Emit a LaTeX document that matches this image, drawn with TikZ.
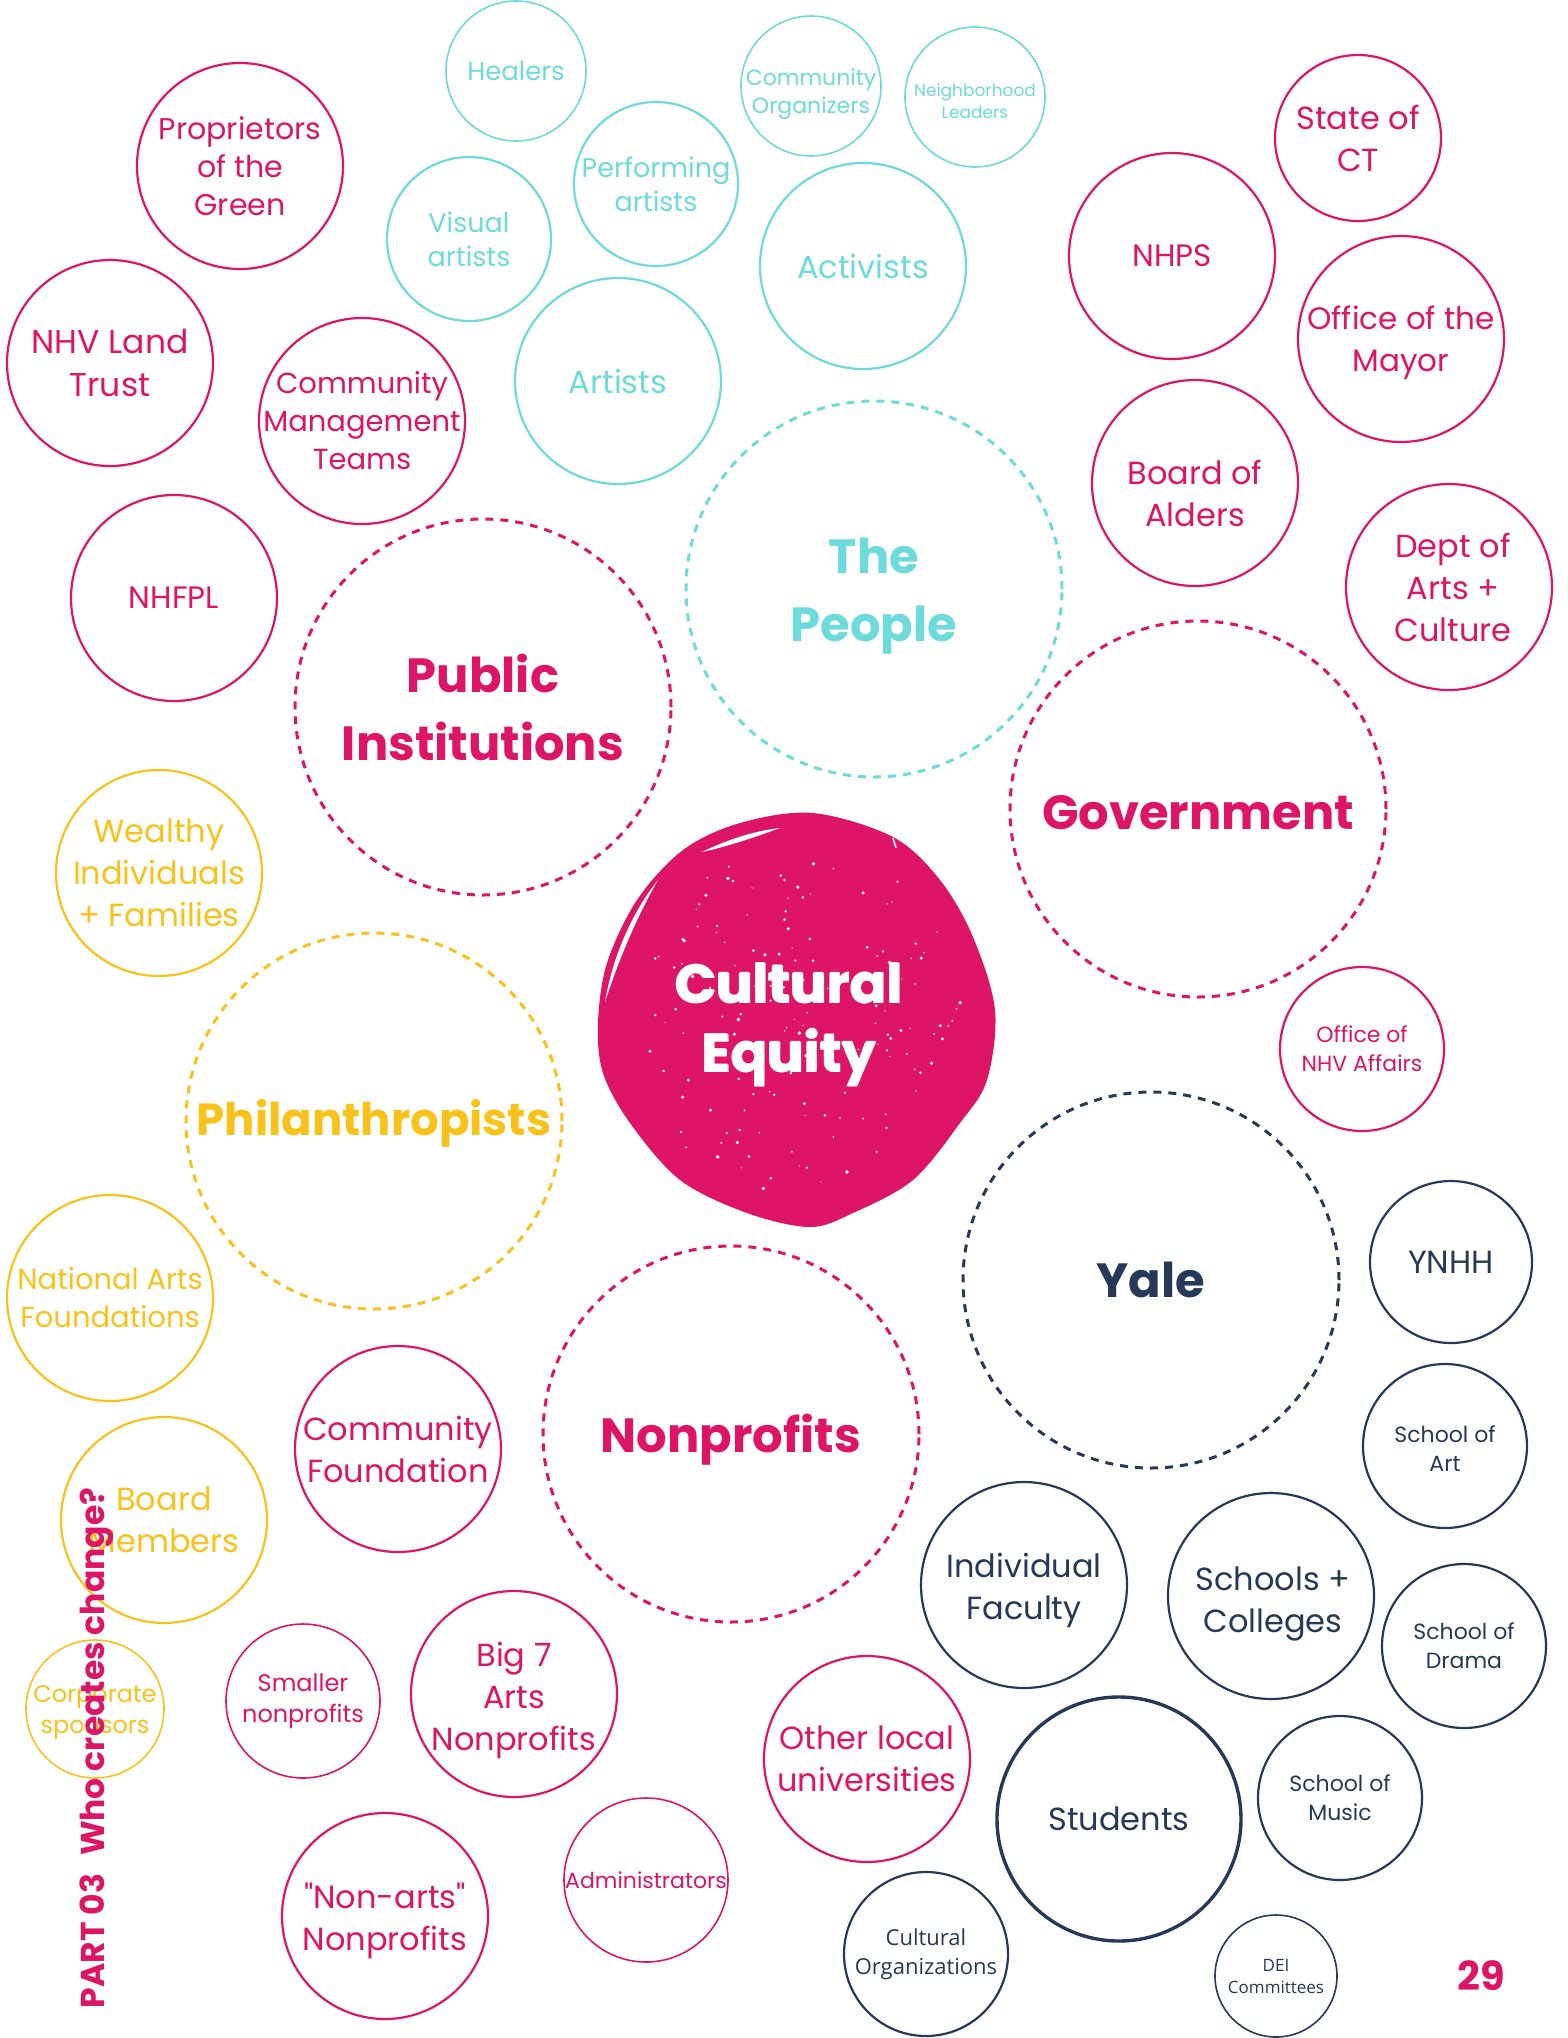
\documentclass[tikz,border=0pt]{standalone}
\usepackage{fontspec}
\setmainfont{Poppins}[Ligatures=TeXOff]
\newfontfamily\opensans{Open Sans}

\definecolor{cepink}{HTML}{DE1567}
\definecolor{cecyan}{HTML}{6DDADB}
\definecolor{ceyellow}{HTML}{F8C21B}
\definecolor{cenavy}{HTML}{263959}

\tikzset{
  ring/.style={circle, draw, inner sep=0pt, line width=2.2pt},
  thinring/.style={ring, line width=1.6pt},
  hub/.style={circle, draw, inner sep=0pt, line width=3pt, dash pattern=on 8pt off 7pt},
  lbl/.style={align=center, inner sep=0pt},
  fs/.style 2 args={font=\fontsize{#1}{#2}\selectfont},
  big/.style={font=\fontsize{48}{68}\selectfont\bfseries},
  heavy/.style={lbl, white, font=\fontsize{54}{69}\selectfont\bfseries},
}

% bubble: name, centre, diameter, ring style, label style, text
\newcommand\bub[6]{%
  \node[#4, minimum size=#3pt] (#1) at (#2) {};
  \node[lbl, #5] (#1-t) at (#1) {#6};}

\begin{document}
\begin{tikzpicture}[x=1pt, y=-1pt]
\fill[white] (0,0) rectangle (1567,2038);
\useasboundingbox (0,0) rectangle (1567,2038);

% ---- The People (cyan) ----
\bub{healers}{516,71}{140}{thinring, cecyan}{cecyan, fs={26}{32}}{Healers}
\bub{commorg}{811,86}{140}{thinring, cecyan}{cecyan, fs={22}{28}, yshift=-8pt}{Community\\Organizers}
\bub{neigh}{975,97}{140}{thinring, cecyan}{cecyan, fs={17}{22}, yshift=-4pt}{Neighborhood\\Leaders}
\bub{perf}{656,184}{164}{ring, cecyan}{cecyan, fs={27}{34}}{Performing\\artists}
\bub{visual}{469,239}{164}{ring, cecyan}{cecyan, fs={27}{34}}{Visual\\artists}
\bub{activists}{863,266}{206}{ring, cecyan}{cecyan, fs={32}{40}}{Activists}
\bub{artists}{618,381}{206}{ring, cecyan}{cecyan, fs={32}{40}}{Artists}
\bub{people}{874,589}{376}{hub, cecyan}{cecyan, big, yshift=-7pt}{The\\People}

% ---- Public Institutions (pink) ----
\bub{prop}{240,166}{206}{ring, cepink}{cepink, fs={30}{38}}{Proprietors\\of the\\Green}
\bub{landtrust}{110,363}{206}{ring, cepink}{cepink, fs={33}{43}}{NHV Land\\Trust}
\bub{cmt}{362,421}{206}{ring, cepink}{cepink, fs={29}{38}}{Community\\Management\\Teams}
\bub{nhfpl}{174,598}{206}{ring, cepink}{cepink, fs={31}{38}}{NHFPL}
\bub{public}{483,707}{376}{hub, cepink}{cepink, big}{Public\\Institutions}

% ---- Government (pink) ----
\bub{nhps}{1172,256}{206}{ring, cepink}{cepink, fs={31}{38}}{NHPS}
\bub{statect}{1358,138}{166}{ring, cepink}{cepink, fs={32}{42}}{State of\\CT}
\bub{mayor}{1401,339}{206}{ring, cepink}{cepink, fs={31}{42}, yshift=-4pt}{Office of the\\Mayor}
\bub{alders}{1195,483}{206}{ring, cepink}{cepink, fs={32}{42}, yshift=-10pt}{Board of\\Alders}
\bub{dept}{1449,587}{206}{ring, cepink}{cepink, fs={32}{42}, xshift=4pt}{Dept of\\Arts +\\Culture}
\bub{govt}{1198,809}{376}{hub, cepink}{cepink, big, yshift=-4pt}{Government}
\bub{nhvaff}{1362,1049}{164}{ring, cepink}{cepink, fs={22}{29}}{Office of\\NHV Affairs}

% ---- Nonprofits (pink) ----
\bub{nonprofits}{731,1434}{376}{hub, cepink}{cepink, big, yshift=-6pt}{Nonprofits}
\bub{commfound}{398,1449}{206}{ring, cepink}{cepink, fs={32}{42}}{Community\\Foundation}
\bub{smaller}{303,1701}{154}{thinring, cepink}{cepink, fs={24}{31}}{Smaller\\nonprofits}
\bub{bigseven}{514,1694}{206}{ring, cepink}{cepink, fs={32}{42}, yshift=-6pt}{Big 7\\Arts\\Nonprofits}
\bub{nonarts}{385,1916}{206}{ring, cepink}{cepink, fs={32}{42}, yshift=-5pt}{"Non-arts"\\Nonprofits}
\bub{admin}{646,1880}{164}{thinring, cepink}{cepink, fs={22}{29}}{Administrators}
\bub{otherunis}{867,1759}{206}{ring, cepink}{cepink, fs={32}{42}}{Other local\\universities}

% ---- Philanthropists (yellow) ----
\bub{wealthy}{159,873}{206}{ring, ceyellow}{ceyellow, fs={32}{42}}{Wealthy\\Individuals\\+ Families}
\bub{phil}{374,1121}{376}{hub, ceyellow}{ceyellow, font=\fontsize{45}{68}\selectfont\bfseries, yshift=-2pt}{Philanthropists}
\bub{natarts}{110,1298}{206}{ring, ceyellow}{ceyellow, fs={29}{38}}{National Arts\\Foundations}
\bub{board}{164,1520}{206}{ring, ceyellow}{ceyellow, fs={32}{42}}{Board\\Members}
\bub{corp}{95,1709}{138}{thinring, ceyellow}{ceyellow, fs={24}{31}, yshift=-4pt}{Corporate\\sponsors}

% ---- Yale (navy) ----
\bub{yale}{1151,1280}{376}{hub, cenavy}{cenavy, big}{Yale}
\bub{ynhh}{1451,1262}{162}{ring, cenavy}{cenavy, fs={32}{40}}{YNHH}
\bub{schart}{1445,1446}{164}{ring, cenavy}{cenavy, fs={22}{29}, yshift=-3pt}{School of\\Art}
\bub{faculty}{1024,1585}{206}{ring, cenavy}{cenavy, fs={32}{42}, yshift=-5pt}{Individual\\Faculty}
\bub{schools}{1271,1596}{206}{ring, cenavy}{cenavy, fs={32}{42}, yshift=-8pt, xshift=2pt}{Schools +\\Colleges}
\bub{drama}{1464,1646}{164}{ring, cenavy}{cenavy, fs={22}{29}}{School of\\Drama}
\bub{students}{1119,1819}{244}{ring, cenavy, line width=3.4pt}{cenavy, fs={32}{40}}{Students}
\bub{music}{1340,1798}{164}{ring, cenavy}{cenavy, fs={22}{29}}{School of\\Music}
\bub{culturg}{926,1954}{164}{ring, cenavy}{cenavy, font=\opensans\fontsize{22}{29}\selectfont}{Cultural\\Organizations}
\bub{dei}{1276,1976}{122}{thinring, cenavy}{cenavy, font=\opensans\fontsize{17}{22}\selectfont}{DEI\\Committees}

% ---- Cultural Equity: painted blob ----
\fill[cepink] plot[smooth cycle, tension=0.55] coordinates {
  (813,813) (893,837) (940,880) (973,937) (995,1010) (987,1080)
  (960,1123) (913,1180) (853,1213) (810,1227) (747,1213) (680,1180)
  (630,1123) (603,1073) (598,1023) (607,963) (637,900) (683,850) (740,823)};
% brush scratches
\fill[white] (702,852) .. controls (730,838) and (760,830) .. (780,828)
             .. controls (758,836) and (730,846) .. (702,852) -- cycle;
\fill[white] (605,1002) .. controls (612,960) and (630,915) .. (658,880)
             .. controls (636,918) and (618,962) .. (605,1002) -- cycle;
\draw[white, line width=1.5pt] (893,838) -- (896,848);
% speckles
\pgfmathsetseed{11}
\foreach \i in {1,...,150}{
  \pgfmathsetmacro\ang{rnd*360}
  \pgfmathsetmacro\rad{sqrt(rnd)*0.88}
  \pgfmathsetmacro\px{796+\rad*190*cos(\ang)}
  \pgfmathsetmacro\py{1020+\rad*198*sin(\ang)}
  \pgfmathsetmacro\sz{0.6+rnd*1.3}
  \fill[white] (\px,\py) circle (\sz pt);
}
% heavy lettering: the label set three times, slightly offset
\node[heavy] (equity-l) at (788.2,1025) {Cultural\\Equity};
\node[heavy] (equity-r) at (789.8,1025) {Cultural\\Equity};
\node[heavy] (equity) at (789,1024.5) {Cultural\\Equity};

% ---- page furniture ----
\node[lbl, cepink, rotate=90, anchor=center, font=\fontsize{33}{40}\selectfont\bfseries]
  (title) at (97,1748) {PART 03\hspace{18pt}Who creates change?};
\node[lbl, cepink, font=\fontsize{40}{48}\selectfont\bfseries] (page) at (1481,1976) {29};
\end{tikzpicture}
\end{document}
